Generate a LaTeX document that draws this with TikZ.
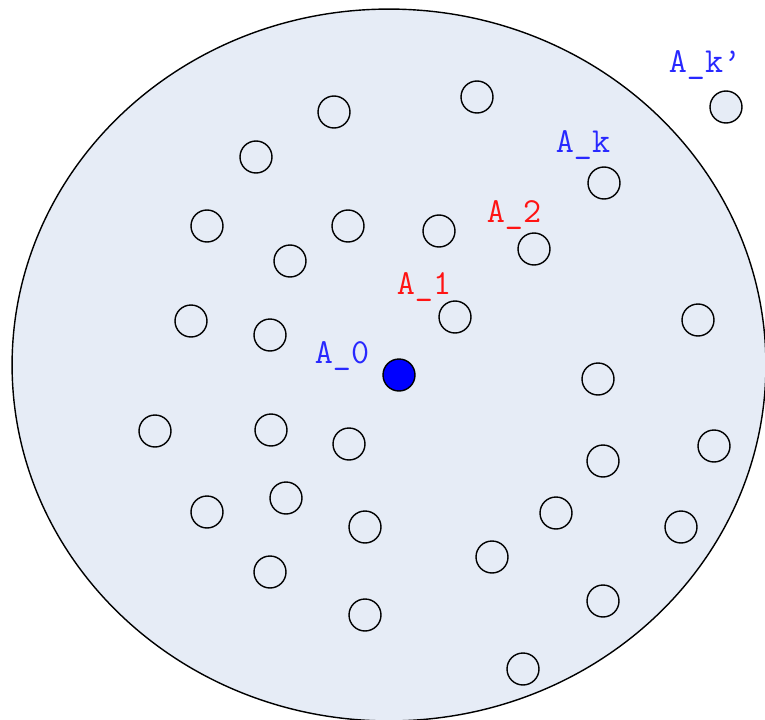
\documentclass[tikz,border=0pt]{standalone}
\usepackage{fontspec}
\usepackage{xcolor}
\definecolor{fondo}{RGB}{230,236,246}
\definecolor{azul}{RGB}{0,0,255}
\definecolor{etazul}{RGB}{40,40,255}
\definecolor{etrojo}{RGB}{255,20,20}

\tikzset{
  hueco/.style={circle, draw=black, line width=0.8pt, fill=fondo, minimum size=0.64cm, inner sep=0pt},
  punto/.style={circle, draw=black, line width=0.8pt, fill=azul, minimum size=0.64cm, inner sep=0pt},
  etiq/.style={inner sep=0pt, font=\ttfamily\fontsize{20}{22}\selectfont}
}

\begin{document}
\begin{tikzpicture}[x=0.02cm, y=-0.02cm]
    \useasboundingbox (0,0) rectangle (765,720);
    % region
    \draw[line width=0.8pt, fill=fondo] (389,365) ellipse [x radius=7.54cm, y radius=7.12cm];

    % the other points
    \foreach \x/\y [count=\i] in {334/112, 477/97, 726/107, 256/157, 604/183, 207/226, 348/226,
        439/231, 534/249, 290/261, 191/321, 270/335, 455/317, 698/320, 598/379, 155/431,
        271/430, 349/444, 714/446, 603/461, 207/512, 286/498, 365/527, 556/513, 681/527,
        270/572, 492/557, 365/615, 603/601, 523/669}
      \node[hueco] (p\i) at (\x,\y) {};

    % starting point
    \node[punto] (p0) at (399,375) {};

    % labels
    \node[etiq, text=etazul] (a0) at (342,356) {A\_0};
    \node[etiq, text=etrojo] (a1) at (424,287) {A\_1};
    \node[etiq, text=etrojo] (a2) at (514,215) {A\_2};
    \node[etiq, text=etazul] (ak) at (583,145) {A\_k};
    \node[etiq, text=etazul] (akp) at (705,65) {A\_k’};
  \end{tikzpicture}
\end{document}
